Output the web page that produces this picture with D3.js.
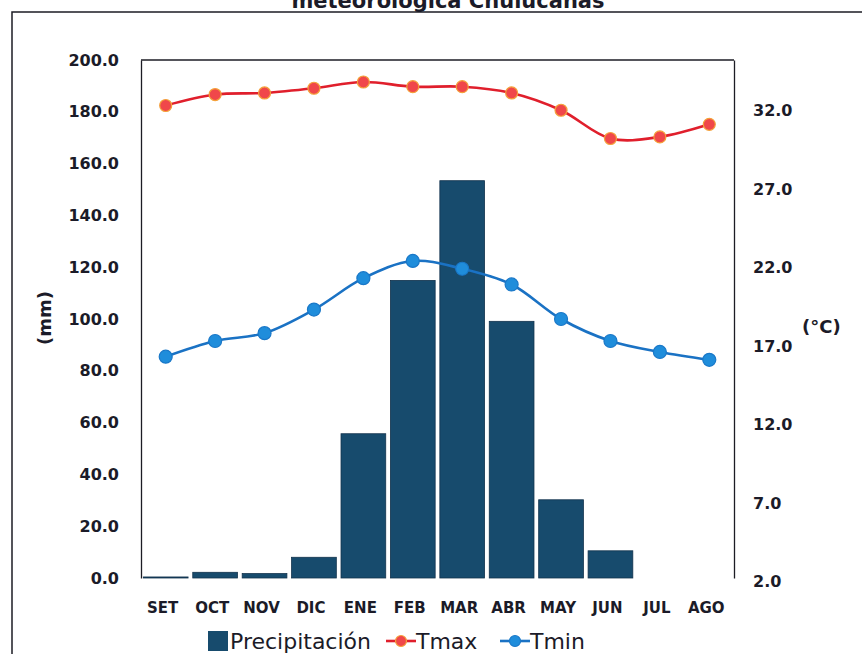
<!DOCTYPE html>
<html>
<head>
<meta charset="utf-8">
<script src="https://d3js.org/d3.v7.min.js"></script>
<style>
  body { margin: 0; background: #fff; }
  svg text { fill: #1b1b28; }
</style>
</head>
<body>
<div id="chart"></div>
<script>
// data
const months = ["SET", "OCT", "NOV", "DIC", "ENE", "FEB", "MAR", "ABR", "MAY", "JUN", "JUL", "AGO"];
const precip = [0.4, 2.2, 1.7, 8.0, 55.7, 114.9, 153.4, 99.1, 30.2, 10.5, 0, 0];
const tmax = [32.1, 32.8, 32.9, 33.2, 33.6, 33.3, 33.3, 32.9, 31.8, 30.0, 30.1, 30.9];
const tmin = [16.1, 17.1, 17.6, 19.1, 21.1, 22.2, 21.7, 20.7, 18.5, 17.1, 16.4, 15.9];
const mmTicks = [0, 20, 40, 60, 80, 100, 120, 140, 160, 180, 200];
const tempTicks = [2, 7, 12, 17, 22, 27, 32];

const W = 862, H = 654;
const plot = {left: 141, right: 734, top: 60, bottom: 578};
const labelFont = "'DejaVu Sans', sans-serif";

const svg = d3.select("#chart")
    .append("svg")
    .attr("width", W)
    .attr("height", H);

// chart frame (runs off the page on the right and bottom)
svg.append("rect")
    .attr("x", 12).attr("y", 12)
    .attr("width", 900).attr("height", 700)
    .attr("fill", "none")
    .attr("stroke", "#1c1c24")
    .attr("stroke-width", 1.5);

// title, cut at the top like the scan
svg.append("text")
    .attr("x", 448)
    .attr("y", 8)
    .attr("text-anchor", "middle")
    .style("font-family", labelFont)
    .style("font-weight", "bold")
    .style("font-size", "21px")
    .text("meteorológica Chulucanas");

const x = d3.scaleBand()
    .domain(months)
    .range([plot.left, plot.right])
    .paddingInner(0.095)
    .paddingOuter(0.0475);

const y = d3.scaleLinear()
    .domain([0, 200])
    .range([plot.bottom, plot.top]);

const yT = d3.scaleLinear()
    .domain([2, 35])
    .range([plot.bottom, plot.top]);

// top border of plot area
svg.append("line")
    .attr("x1", plot.left).attr("x2", plot.right)
    .attr("y1", plot.top).attr("y2", plot.top)
    .attr("stroke", "#1c1c24")
    .attr("stroke-width", 1.3);

// bars
svg.append("g")
    .selectAll("rect")
    .data(precip)
    .join("rect")
    .attr("x", (d, i) => x(months[i]))
    .attr("width", x.bandwidth())
    .attr("y", d => y(d))
    .attr("height", d => y(0) - y(d))
    .attr("fill", "#174b6d")
    .attr("stroke", "#12324d")
    .attr("stroke-width", 0.8);

// left axis
const leftAxis = svg.append("g")
    .attr("transform", `translate(${plot.left},0)`)
    .call(d3.axisLeft(y).tickValues(mmTicks).tickSize(0).tickSizeOuter(0).tickPadding(22)
        .tickFormat(d3.format(".1f")));
leftAxis.select(".domain").attr("stroke", "#1c1c24").attr("stroke-width", 1.3);
leftAxis.selectAll("text")
    .style("font-family", labelFont)
    .style("font-weight", "bold")
    .style("font-size", "16px")
    .attr("fill", "#1b1b28");

// right axis
const rightAxis = svg.append("g")
    .attr("transform", `translate(${plot.right},0)`)
    .call(d3.axisRight(yT).tickValues(tempTicks).tickSize(0).tickSizeOuter(0).tickPadding(19)
        .tickFormat(d3.format(".1f")));
rightAxis.select(".domain").attr("stroke", "#1c1c24").attr("stroke-width", 1.3);
rightAxis.selectAll("text")
    .attr("dy", "0.55em")
    .style("font-family", labelFont)
    .style("font-weight", "bold")
    .style("font-size", "16px")
    .attr("fill", "#1b1b28");

// month labels
svg.append("g")
    .selectAll("text")
    .data(months)
    .join("text")
    .attr("x", d => x(d) + x.bandwidth() / 2 - 3)
    .attr("y", 613)
    .attr("text-anchor", "middle")
    .style("font-family", labelFont)
    .style("font-weight", "bold")
    .style("font-size", "15px")
    .text(d => d);

// axis titles
svg.append("text")
    .attr("transform", "translate(51,318) rotate(-90)")
    .attr("text-anchor", "middle")
    .style("font-family", labelFont)
    .style("font-weight", "bold")
    .style("font-size", "18px")
    .text("(mm)");

svg.append("text")
    .attr("x", 802)
    .attr("y", 333)
    .style("font-family", labelFont)
    .style("font-weight", "bold")
    .style("font-size", "18px")
    .text("(°C)");

// temperature lines
const cx = (d, i) => x(months[i]) + x.bandwidth() / 2;
const series = [
    {name: "Tmax", values: tmax, line: "#e01f2c", fill: "#f0474a", edge: "#f4a13a", r: 6},
    {name: "Tmin", values: tmin, line: "#1a72c4", fill: "#1f8ddb", edge: "#1a78c8", r: 6.5}
];

series.forEach(s => {
    const line = d3.line()
        .x(cx)
        .y(d => yT(d))
        .curve(d3.curveCatmullRom.alpha(0.5));
    svg.append("path")
        .datum(s.values)
        .attr("d", line)
        .attr("fill", "none")
        .attr("stroke", s.line)
        .attr("stroke-width", 2.6);
    svg.append("g")
        .selectAll("circle")
        .data(s.values)
        .join("circle")
        .attr("cx", cx)
        .attr("cy", d => yT(d))
        .attr("r", s.r)
        .attr("fill", s.fill)
        .attr("stroke", s.edge)
        .attr("stroke-width", 1.2);
});

// legend
const legend = svg.append("g");
legend.append("rect")
    .attr("x", 208).attr("y", 631)
    .attr("width", 20).attr("height", 20)
    .attr("fill", "#174b6d");
legend.append("text")
    .attr("x", 230).attr("y", 649)
    .style("font-family", labelFont)
    .style("font-size", "22px")
    .text("Precipitación");

const legendItems = [
    {s: series[0], x: 386},
    {s: series[1], x: 500}
];
legendItems.forEach(it => {
    legend.append("line")
        .attr("x1", it.x).attr("x2", it.x + 30)
        .attr("y1", 641).attr("y2", 641)
        .attr("stroke", it.s.line)
        .attr("stroke-width", 2.6);
    legend.append("circle")
        .attr("cx", it.x + 15).attr("cy", 641)
        .attr("r", 5.5)
        .attr("fill", it.s.fill)
        .attr("stroke", it.s.edge)
        .attr("stroke-width", 1.2);
    legend.append("text")
        .attr("x", it.x + 30).attr("y", 649)
        .style("font-family", labelFont)
        .style("font-size", "22px")
        .text(it.s.name);
});
</script>
</body>
</html>
